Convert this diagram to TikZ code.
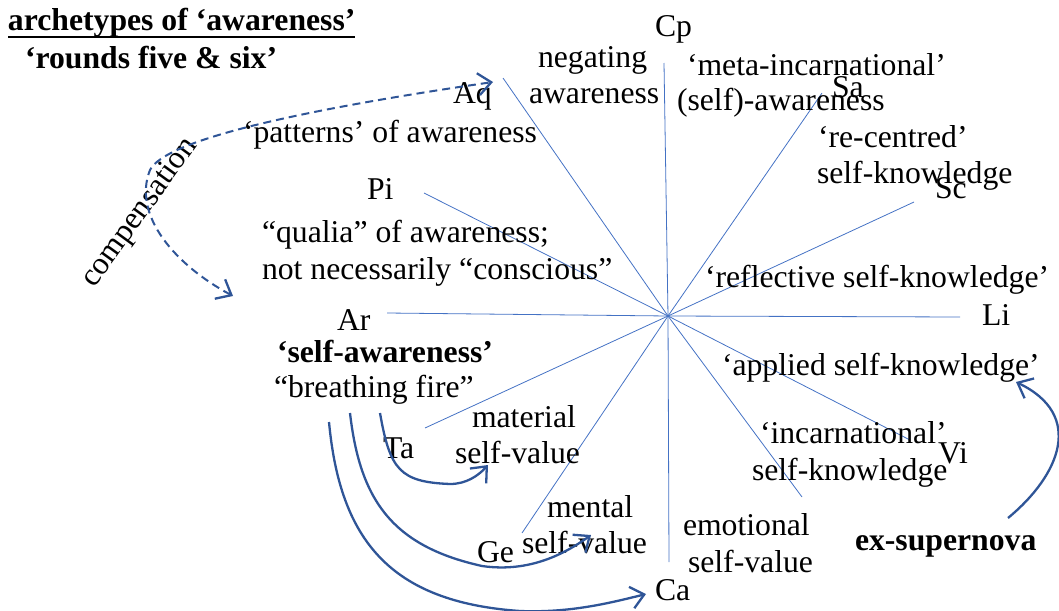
\documentclass[tikz,border=0pt]{standalone}
\usepackage{fontspec}
\setmainfont{Liberation Serif}
\usetikzlibrary{arrows.meta}
\definecolor{rayblue}{HTML}{4472C4}
\definecolor{darkblue}{HTML}{2F5597}
\begin{document}
\begin{tikzpicture}[x=1pt,y=-1pt,
  lbl/.style={anchor=base west,inner sep=0pt,outer sep=0pt,font=\fontsize{31.7}{38}\selectfont},
  blbl/.style={lbl,font=\fontsize{31.7}{38}\selectfont\bfseries},
  ray/.style={draw=rayblue,line width=0.8pt},
  bigarrow/.style={draw=darkblue,line width=2.3pt,-{Straight Barb[length=13pt,width=22pt,line width=2.3pt]}},
  dasharrow/.style={draw=darkblue,line width=2pt,dash pattern=on 8pt off 5pt,{Straight Barb[length=13pt,width=22pt,line width=2.3pt]}-{Straight Barb[length=13pt,width=22pt,line width=2.3pt]}}]
\useasboundingbox (0,0) rectangle (1059,610);

% rays
\coordinate (O) at (668,316);
\coordinate (eCp) at (664,63);
\coordinate (eCa) at (669,562);
\coordinate (eAq) at (503,78);
\coordinate (eInc) at (802,497);
\coordinate (eSa) at (822,93);
\coordinate (eGe) at (522,533);
\coordinate (eSc) at (914,202);
\coordinate (eTa) at (425,428);
\coordinate (ePi) at (424,193);
\coordinate (eVi) at (910,440);
\coordinate (eAr) at (387,313);
\coordinate (eLi) at (960,317);
\foreach \e in {eCp,eCa,eAq,eInc,eSa,eGe,eSc,eTa,ePi,eVi,eAr,eLi}
  \draw[ray] (O) -- (\e);

% title
\node[blbl] (title) at (8,31) {archetypes of ‘awareness’};
\draw[line width=2.4pt] ([yshift=-6pt]title.base west) -- ([yshift=-6pt]title.base east);
\node[blbl] (rounds) at (25,68) {‘rounds five \& six’};

% labels
\node[lbl] (Aq) at (453,103) {Aq};
\node[lbl] (patterns) at (243,142) {‘patterns’ of awareness};
\node[lbl] (Pi) at (367,199) {Pi};
\node[lbl] (qualia1) at (262,242) {“qualia” of awareness;};
\node[lbl] (qualia2) at (262,279) {not necessarily “conscious”};
\node[font=\fontsize{31.7}{38}\selectfont,rotate=54,inner sep=0pt] (comp) at (140,213) {compensation};

\node[lbl] (neg1) at (538,67) {negating};
\node[lbl] (neg2) at (529,103) {awareness};
\node[lbl] (Cp) at (655,37) {Cp};
\node[lbl] (meta1) at (687,75) {‘meta-incarnational’};
\node[lbl] (meta2) at (677,110) {(self)-awareness};
\node[lbl] (Sa) at (832,97) {Sa};
\node[lbl] (rec1) at (818,147) {‘re-centred’};
\node[lbl] (rec2) at (817,183) {self-knowledge};
\node[lbl] (Sc) at (935,198) {Sc};
\node[lbl] (refl) at (705,287) {‘reflective self-knowledge’};
\node[lbl] (Li) at (982,325) {Li};

\node[lbl] (Ar) at (337,330) {Ar};
\node[blbl] (selfaw) at (277,362) {‘self-awareness’};
\node[lbl] (breath) at (274,397) {“breathing fire”};
\node[lbl] (Ta) at (383,458) {Ta};
\node[lbl] (mat1) at (472,427) {material};
\node[lbl] (mat2) at (455,463) {self-value};
\node[lbl] (men1) at (547,517) {mental};
\node[lbl] (men2) at (522,553) {self-value};
\node[lbl] (Ge) at (477,562) {Ge};
\node[lbl] (emo1) at (683,535) {emotional};
\node[lbl] (emo2) at (688,572) {self-value};
\node[lbl] (Ca) at (655,600) {Ca};

\node[lbl] (appl) at (722,375) {‘applied self-knowledge’};
\node[lbl] (inc1) at (760,443) {‘incarnational’};
\node[lbl] (inc2) at (752,480) {self-knowledge};
\node[lbl] (Vi) at (938,463) {Vi};
\node[blbl] (exs) at (855,550) {ex-supernova};

% connectors
\coordinate (dA) at (233,296);
\coordinate (dB) at (493,82);
\draw[dasharrow] (dA) .. controls (175,265) and (132,215) .. (150,170)
                 .. controls (165,140) and (300,110) .. (dB);

\coordinate (sTa) at (380,413);
\coordinate (tTa) at (488,465);
\draw[bigarrow] (sTa) .. controls (390,470) and (400,482) .. (450,484)
                .. controls (466,484) and (478,476) .. (tTa);

\coordinate (sGe) at (350,413);
\coordinate (tGe) at (591,535);
\draw[bigarrow] (sGe) .. controls (360,500) and (392,546) .. (482,566)
                .. controls (530,573) and (566,553) .. (tGe);

\coordinate (sCa) at (329,422);
\coordinate (tCa) at (646,594);
\draw[bigarrow] (sCa) .. controls (340,540) and (390,602) .. (520,611)
                .. controls (570,613) and (610,603) .. (tCa);

\coordinate (sEx) at (1008,518);
\coordinate (tEx) at (1016,382);
\draw[bigarrow] (sEx) .. controls (1060,475) and (1085,415) .. (tEx);
\end{tikzpicture}
\end{document}
